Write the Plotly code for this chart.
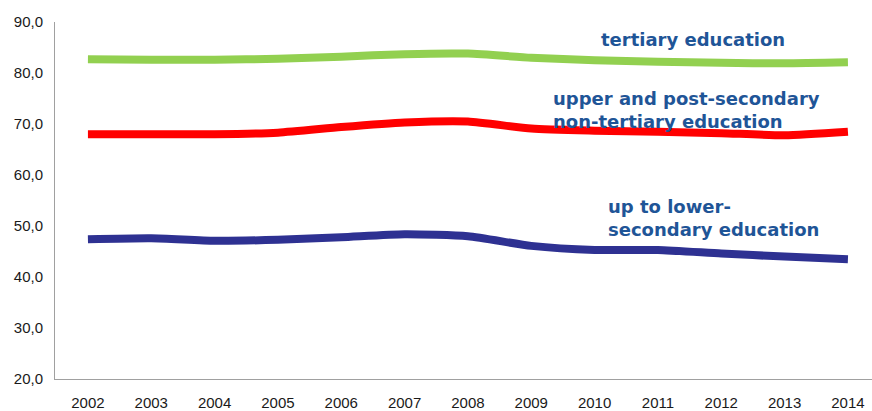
import plotly.graph_objects as go

years = list(range(2002, 2015))
tertiary = [82.7, 82.6, 82.6, 82.8, 83.2, 83.7, 83.8, 83.0, 82.5, 82.2, 82.0, 81.9, 82.1]
upper_secondary = [68.0, 68.0, 68.0, 68.3, 69.4, 70.3, 70.5, 69.1, 68.7, 68.5, 68.2, 67.8, 68.5]
lower_secondary = [47.4, 47.6, 47.1, 47.3, 47.8, 48.4, 48.0, 46.1, 45.3, 45.3, 44.6, 44.0, 43.5]
y_ticks = [20, 30, 40, 50, 60, 70, 80, 90]

fig = go.Figure()
for vals, col in [(tertiary, "#92D050"), (upper_secondary, "#FF0000"), (lower_secondary, "#2E3192")]:
    fig.add_trace(go.Scatter(x=years, y=vals, mode="lines",
                             line=dict(color=col, width=8, shape="spline", smoothing=0.6),
                             showlegend=False, hoverinfo="skip"))

W, H = 872, 411
L, R, T, B = 55, 0, 22, 27
pw, ph = W - L - R, H - T - B

def px(x):
    return (x - L) / pw

def py(y):
    return (H - B - y) / ph

ann_font = dict(family="DejaVu Sans", size=18, color="#1F5597")
fig.add_annotation(text="<b>tertiary education</b>", xref="paper", yref="paper",
                   x=px(693), y=py(40), xanchor="center", yanchor="middle",
                   showarrow=False, font=ann_font)
fig.add_annotation(text="<b>upper and post-secondary<br>non-tertiary education</b>", xref="paper", yref="paper",
                   x=px(551), y=py(111), xanchor="left", yanchor="middle", align="left",
                   showarrow=False, font=ann_font)
fig.add_annotation(text="<b>up to lower-<br>secondary education</b>", xref="paper", yref="paper",
                   x=px(606), y=py(221), xanchor="left", yanchor="middle", align="left",
                   showarrow=False, font=ann_font)

tick_font = dict(family="Liberation Sans, Arial", size=15, color="#1a1a1a")
fig.update_layout(
    width=W, height=H,
    margin=dict(l=L, r=R, t=T, b=B),
    plot_bgcolor="white", paper_bgcolor="white",
    separators=",.",
    xaxis=dict(range=[2001.48, 2014.38], tickvals=years, ticktext=[str(y) for y in years],
               showgrid=False, zeroline=False, showline=True, linecolor="#A0A0A0", linewidth=1,
               ticks="outside", ticklen=10, tickcolor="rgba(0,0,0,0)", tickfont=tick_font),
    yaxis=dict(range=[20, 90], tickvals=y_ticks, tickformat=".1f",
               showgrid=False, zeroline=False, showline=True, linecolor="#A0A0A0", linewidth=1,
               ticks="outside", ticklen=8, tickcolor="rgba(0,0,0,0)", tickfont=tick_font),
)
fig.write_html("out.html", config={"displayModeBar": False},
               post_script="document.body.style.margin='0';document.body.style.overflow='hidden';")
